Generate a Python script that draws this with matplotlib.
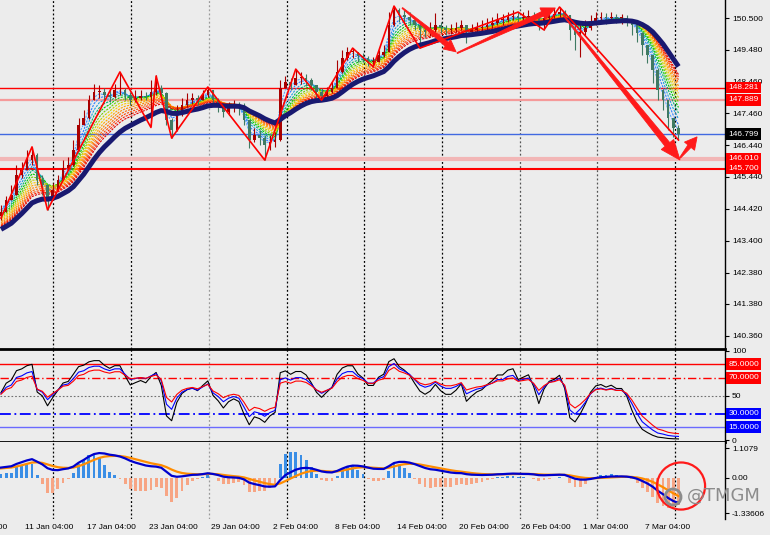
import numpy as np
import matplotlib.pyplot as plt
from matplotlib.patches import Polygon, Ellipse
from matplotlib.transforms import IdentityTransform

# USDJPY H4, one candle per two bars, 5 Jan - 7 Mar 2024
first_open = 144.20
close = [
    144.31, 144.70, 144.86, 145.49, 145.65, 145.97, 146.13, 145.33, 145.17, 144.70,
    145.01, 145.33, 145.72, 145.81, 146.29, 147.09, 147.31, 147.88, 148.14, 148.14,
    148.04, 147.98, 148.20, 148.20, 148.04, 147.88, 147.95, 148.01, 147.98, 148.14,
    148.27, 148.11, 147.25, 146.93, 147.41, 147.73, 147.88, 147.95, 147.88, 148.04,
    148.20, 147.88, 147.73, 147.50, 147.63, 147.69, 147.63, 147.25, 146.61, 146.77,
    146.67, 146.44, 146.55, 146.61, 148.27, 148.46, 148.36, 148.59, 148.59, 148.52,
    148.36, 148.14, 148.01, 148.14, 148.27, 148.78, 149.22, 149.42, 149.42, 149.29,
    149.22, 149.10, 149.10, 149.32, 149.42, 150.28, 150.76, 150.60, 150.53, 150.44,
    150.28, 150.12, 150.05, 150.12, 150.28, 150.18, 150.12, 150.12, 150.18, 150.28,
    150.05, 150.12, 150.18, 150.21, 150.28, 150.34, 150.44, 150.44, 150.53, 150.56,
    150.50, 150.53, 150.56, 150.50, 150.37, 150.50, 150.60, 150.63, 150.69, 150.60,
    150.12, 149.96, 150.05, 150.18, 150.37, 150.50, 150.53, 150.50, 150.53, 150.50,
    150.50, 150.44, 150.28, 150.02, 149.64, 149.32, 148.84, 148.20, 147.88, 147.31,
    146.99, 146.80]
high = [
    144.54, 144.82, 145.17, 145.81, 145.91, 146.29, 146.39, 146.20, 145.49, 145.20,
    145.24, 145.49, 145.97, 146.07, 146.61, 147.31, 147.57, 148.04, 148.39, 148.36,
    148.27, 148.20, 148.39, 148.75, 148.27, 148.14, 148.20, 148.20, 148.14, 148.52,
    148.68, 148.36, 148.15, 147.31, 147.73, 147.95, 148.11, 148.11, 148.04, 148.20,
    148.30, 148.22, 147.95, 147.73, 147.82, 147.88, 147.82, 147.79, 147.25, 146.99,
    146.93, 146.77, 146.77, 146.86, 148.52, 148.65, 148.59, 148.87, 148.78, 148.71,
    148.59, 148.36, 148.27, 148.30, 148.46, 149.16, 149.48, 149.59, 149.54, 149.42,
    149.38, 149.29, 149.26, 149.48, 149.64, 150.69, 150.88, 150.82, 150.76, 150.69,
    150.50, 150.37, 150.28, 150.37, 150.66, 150.37, 150.28, 150.31, 150.37, 150.44,
    150.28, 150.31, 150.37, 150.44, 150.50, 150.53, 150.66, 150.63, 150.69, 150.76,
    150.69, 150.69, 150.76, 150.69, 150.60, 150.69, 150.76, 150.82, 150.85, 150.76,
    150.60, 150.28, 150.28, 150.44, 150.60, 150.69, 150.69, 150.66, 150.69, 150.63,
    150.63, 150.60, 150.44, 150.28, 150.05, 149.64, 149.32, 148.90, 148.25, 147.88,
    147.31, 147.09]
low = [
    144.06, 144.31, 144.70, 144.85, 145.40, 145.65, 145.81, 145.17, 144.86, 144.38,
    144.76, 145.08, 145.59, 145.65, 145.78, 146.25, 147.09, 147.28, 147.88, 147.95,
    147.88, 147.82, 147.95, 148.04, 147.88, 147.73, 147.82, 147.88, 147.88, 147.05,
    148.04, 147.88, 147.09, 146.67, 146.90, 147.38, 147.66, 147.76, 147.73, 147.88,
    147.98, 147.73, 147.50, 147.34, 147.41, 147.50, 147.41, 147.09, 146.35, 146.55,
    146.44, 145.97, 146.29, 146.39, 146.58, 148.27, 148.20, 148.36, 148.39, 148.33,
    148.20, 147.95, 147.88, 147.98, 148.11, 148.27, 148.75, 149.16, 149.22, 149.10,
    149.10, 148.97, 148.94, 149.16, 149.26, 149.42, 150.25, 150.37, 150.31, 150.28,
    150.12, 149.54, 149.89, 149.93, 150.05, 150.02, 149.96, 149.99, 150.05, 150.12,
    149.70, 149.93, 150.05, 150.05, 150.12, 150.18, 150.28, 150.28, 150.37, 150.44,
    150.37, 150.37, 150.44, 150.31, 150.12, 150.12, 150.44, 150.50, 150.53, 150.44,
    149.80, 149.48, 149.26, 149.96, 150.12, 150.28, 150.37, 150.31, 150.37, 150.34,
    150.31, 150.25, 149.96, 149.73, 149.32, 149.06, 148.43, 147.88, 147.57, 146.93,
    146.71, 146.61]

# zigzag swing points (candle index, price)
zz_idx = [0, 6, 9, 23, 29, 30, 33, 40, 51, 57, 62, 68, 72, 76, 81, 100, 105, 108, 131]
zz_price = [144.12, 146.39, 144.38, 148.78, 147.01, 148.65, 146.67, 148.30, 145.97, 148.87,
            147.88, 149.54, 148.94, 150.88, 149.54, 150.69, 150.12, 150.85, 146.61]

# moving-average ribbon
ribbon_periods = [2, 3, 4, 5, 6, 7, 8, 9, 10, 11, 12, 13, 14, 15]
ribbon_seed = [144.55, 144.45, 144.35, 144.25, 144.15, 144.10, 144.05, 144.00,
               143.95, 143.90, 143.85, 143.82, 143.80, 143.78]
ribbon_colors = ['#5aa8ff', '#2f7fff', '#1f9fe0', '#00b070', '#00cc00', '#70d000',
                 '#c0d000', '#ffcc00', '#ffa500', '#ff8800', '#ff6a00', '#ff4500',
                 '#ff2200', '#e00000']
slow_period = 19
slow_seed = 143.70

rsi_periods = [6, 9, 12]
rsi_colors = ['black', '#0000ff', '#ff0000']
rsi_seed = 0.15

macd_fast, macd_slow, macd_sig = 7, 16, 6
macd_seed = [144.15, 143.75, 0.33]
hist_scale = 4.0

# horizontal levels on the price panel
levels = [148.281, 147.889, 146.799, 146.010, 145.700]
level_colors = ['#ff0000', '#f59a9a', '#4169e1', '#f2b6b6', '#ff0000']
level_widths = [1.0, 1.6, 1.0, 3.0, 1.5]
level_box = ['#ff0000', '#ff0000', '#000000', '#ff0000', '#ff0000']

price_ticks = [150.5, 149.48, 148.46, 147.46, 146.44, 145.44, 144.42, 143.40, 142.38, 141.38, 140.36]

# week separators (candle index)
sep_pos = [10.1, 25.1, 40.2, 55.3, 70.2, 85.3, 100.4, 115.3, 130.4]
sep_colors = ['black', 'black', '#9a9a9a', 'black', 'black', 'black', '#555555', '#555555', 'black']

date_pos = [-7.4, 4.6, 16.6, 28.6, 40.6, 52.6, 64.6, 76.6, 88.6, 100.6, 112.6, 124.6]
date_labels = ['5 Jan 04:00', '11 Jan 04:00', '17 Jan 04:00', '23 Jan 04:00', '29 Jan 04:00',
               '2 Feb 04:00', '8 Feb 04:00', '14 Feb 04:00', '20 Feb 04:00', '26 Feb 04:00',
               '1 Mar 04:00', '7 Mar 04:00']

# hand drawn arrows: tail, tip (candle index, price)
arrow_tail = [(77.6, 150.82), (88.2, 149.38), (108.7, 150.60), (131.3, 146.04)]
arrow_tip = [(88.0, 149.42), (107.2, 150.82), (131.3, 145.97), (134.6, 146.71)]
arrow_size = [(5, 12, 12), (5, 13, 14), (6, 16, 20), (4, 13, 12)]


def ema(values, n, seed):
    a = 2.0 / (n + 1)
    out, e = [], seed
    for v in values:
        e += a * (v - e)
        out.append(e)
    return np.array(out)


def rsi(values, n, start):
    diffs = np.diff(np.r_[start, values])
    g = l = rsi_seed
    out = []
    for d in diffs:
        g = (g * (n - 1) + max(d, 0)) / n
        l = (l * (n - 1) + max(-d, 0)) / n
        out.append(100 - 100 / (1 + g / l))
    return np.array(out)


def arrow(ax, p0, p1, w1, hw, hl):
    a = ax.transData.transform(p0)
    b = ax.transData.transform(p1)
    u = (b - a) / np.hypot(*(b - a))
    nrm = np.array([-u[1], u[0]])
    base = b - u * hl
    verts = [a + nrm * 0.5, base + nrm * w1 / 2, base + nrm * hw / 2, b,
             base - nrm * hw / 2, base - nrm * w1 / 2, a - nrm * 0.5]
    ax.add_patch(Polygon(verts, closed=True, transform=IdentityTransform(),
                         fc='#ff1a1a', ec='#ff1a1a', lw=0.6, zorder=8, clip_on=False))


close = np.array(close)
opens = np.r_[first_open, close[:-1]]
high = np.maximum(np.array(high), np.maximum(opens, close))
low = np.minimum(np.array(low), np.minimum(opens, close))
idx = np.arange(len(close))

bg = '#ececec'
plt.rcParams['font.family'] = ['Liberation Sans', 'DejaVu Sans']
fig = plt.figure(figsize=(7.7, 5.35), dpi=100, facecolor=bg)
W = 725 / 770
ax = fig.add_axes([0, 1 - 349 / 535, W, 349 / 535], facecolor=bg)
ax_r = fig.add_axes([0, 1 - 442 / 535, W, 93 / 535], facecolor=bg)
ax_m = fig.add_axes([0, 1 - 519 / 535, W, 77 / 535], facecolor=bg)

for a in (ax, ax_r, ax_m):
    a.set_xlim(-0.19, 140.0)
    for s in a.spines.values():
        s.set_visible(False)
    a.spines['right'].set_visible(True)
    a.spines['right'].set_linewidth(1.0)
    a.set_xticks([])
    a.yaxis.tick_right()
    a.tick_params(axis='y', direction='out', length=3, width=0.8, labelsize=6, pad=2)
    for p, c in zip(sep_pos, sep_colors):
        a.axvline(p, color=c, lw=0.9, ls=(0, (1.5, 1.8)), zorder=1)

ax.set_ylim(139.945, 151.074)
ax_r.set_ylim(-1.7, 102.1)
ax_m.set_ylim(-1.56, 1.335)
ax_r.spines['top'].set_visible(True)
ax_r.spines['top'].set_linewidth(2)
ax_r.spines['bottom'].set_visible(True)
ax_r.spines['bottom'].set_linewidth(2)

# price panel
ax.set_yticks(price_ticks)
ax.set_yticklabels([f'{v:.3f}' for v in price_ticks])
for lv, c, w in zip(levels, level_colors, level_widths):
    ax.axhline(lv, color=c, lw=w, zorder=1.5)

for n, s, c in zip(ribbon_periods, ribbon_seed, ribbon_colors):
    ax.plot(idx, ema(close, n, s), color=c, lw=0.8, ls=(0, (2, 1)), zorder=2)

up = close >= opens
ccol = np.where(up, '#a80000', '#3f7a62')
ax.vlines(idx, low, high, colors=ccol, lw=0.8, zorder=3)
ax.bar(idx, np.maximum(np.abs(close - opens), 0.02), bottom=np.minimum(opens, close),
       width=0.5, color=ccol, zorder=3)
ax.plot(idx, ema(close, slow_period, slow_seed), color='#191970', lw=3.6,
        solid_capstyle='butt', zorder=4)
ax.plot(zz_idx, zz_price, color='#ff0000', lw=1.2, zorder=5)

for lv, fc in zip(levels, level_box):
    ax.text(1.0045, lv, f'{lv:.3f}', transform=ax.get_yaxis_transform(), fontsize=6,
            color='white', va='center', ha='left', zorder=10, clip_on=False,
            bbox=dict(boxstyle='square,pad=0.28', fc=fc, ec='none'))

# RSI panel
ax_r.set_yticks([100, 50, 0])
ax_r.set_yticklabels(['100', '50', '0'])
ax_r.axhline(85, color='#ff0000', lw=1.0)
ax_r.axhline(70, color='#ff0000', lw=1.0, ls=(0, (6, 2, 1, 2)))
ax_r.axhline(50, color='#707070', lw=0.8, ls=(0, (1.5, 1.8)))
ax_r.axhline(30, color='#0000ff', lw=1.3, ls=(0, (6, 2, 1, 2)))
ax_r.axhline(15, color='#6a6aff', lw=1.0)
for n, c in zip(rsi_periods, rsi_colors):
    ax_r.plot(idx, rsi(close, n, first_open), color=c, lw=0.8, zorder=3)
for v, fc in zip([85, 70, 30, 15], ['#ff0000', '#ff0000', '#0000ff', '#0000ff']):
    ax_r.text(1.0045, v, f'{v:.4f}', transform=ax_r.get_yaxis_transform(), fontsize=6,
              color='white', va='center', ha='left', zorder=10, clip_on=False,
              bbox=dict(boxstyle='square,pad=0.28', fc=fc, ec='none'))

# MACD panel
fast = ema(close, macd_fast, macd_seed[0])
slow = ema(close, macd_slow, macd_seed[1])
macd = fast - slow
sig = ema(macd, macd_sig, macd_seed[2])
hist = (macd - sig) * hist_scale
ax_m.bar(idx, hist, width=0.55, color=np.where(hist >= 0, '#3a8ee6', '#f7a584'), zorder=2)
ax_m.plot(idx, sig, color='#ff8c00', lw=1.6, zorder=3)
ax_m.plot(idx, macd, color='#0000cd', lw=1.6, zorder=4)
ax_m.set_yticks([1.1079, 0.0, -1.33606])
ax_m.set_yticklabels(['1.1079', '0.00', '-1.33606'])

for p, t in zip(date_pos, date_labels):
    ax_m.text(p, -0.104, t, transform=ax_m.get_xaxis_transform(), fontsize=6,
              ha='left', va='center', clip_on=False)

ax_m.add_patch(Ellipse((131.5, -0.32), 9.3, 1.77, fill=False, ec='#ff1a1a', lw=1.6,
                       zorder=9, clip_on=False))
fig.text(687 / 770, 1 - 496 / 535, '@TMGM', fontsize=13, color='#8c8c8c',
         va='center', ha='left', family='DejaVu Sans')
fig.patches.append(Ellipse((673 / 770, 1 - 497 / 535), 16 / 770, 16 / 535,
                           transform=fig.transFigure, fill=False, ec='#8c8c8c', lw=2))

for p0, p1, (w1, hw, hl) in zip(arrow_tail, arrow_tip, arrow_size):
    arrow(ax, p0, p1, w1, hw, hl)

fig.savefig('out.png', dpi=100, facecolor=bg)
